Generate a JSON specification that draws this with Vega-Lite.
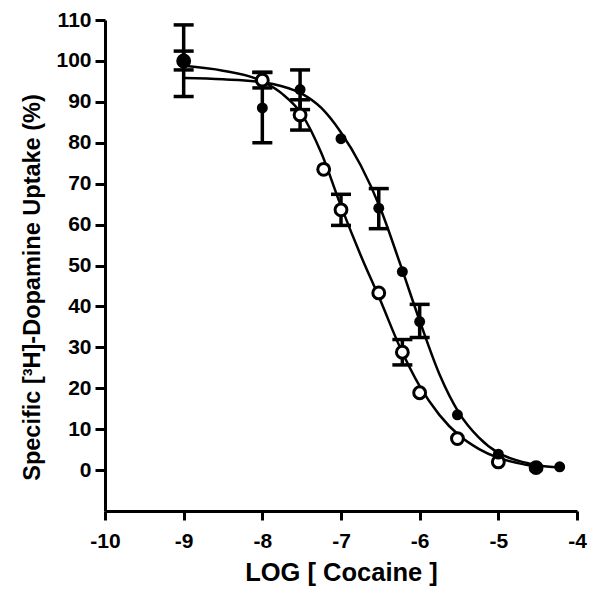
{
  "$schema": "https://vega.github.io/schema/vega-lite/v6.json",
  "width": 472,
  "height": 491,
  "autosize": {"type": "none"},
  "padding": {"left": 105, "top": 20, "right": 23, "bottom": 87},
  "background": "white",
  "config": {
    "view": {"stroke": null},
    "font": "Liberation Sans",
    "axis": {
      "grid": false,
      "domainColor": "black",
      "domainWidth": 3,
      "tickColor": "black",
      "tickWidth": 3,
      "tickSize": 9,
      "labelFlush": false,
      "labelOverlap": false,
      "labelFont": "Liberation Sans",
      "labelFontWeight": "bold",
      "labelFontSize": 21,
      "labelColor": "black",
      "titleFont": "Liberation Sans",
      "titleFontWeight": "bold",
      "titleFontSize": 24,
      "titleColor": "black"
    }
  },
  "datasets": {
    "curves": [
      {"series": "open", "x": -9, "y": 98.8},
      {"series": "open", "x": -8.5, "y": 97.6},
      {"series": "open", "x": -8, "y": 95.0},
      {"series": "open", "x": -7.75, "y": 92.0},
      {"series": "open", "x": -7.5, "y": 87.0},
      {"series": "open", "x": -7.25, "y": 77.5},
      {"series": "open", "x": -7, "y": 64.5},
      {"series": "open", "x": -6.75, "y": 52.5},
      {"series": "open", "x": -6.5, "y": 41.5},
      {"series": "open", "x": -6.25, "y": 30.0},
      {"series": "open", "x": -6, "y": 20.5},
      {"series": "open", "x": -5.75, "y": 13.5},
      {"series": "open", "x": -5.5, "y": 8.5},
      {"series": "open", "x": -5.25, "y": 5.2},
      {"series": "open", "x": -5, "y": 3.0},
      {"series": "open", "x": -4.75, "y": 1.7},
      {"series": "open", "x": -4.5, "y": 0.8},
      {"series": "filled", "x": -9, "y": 95.8},
      {"series": "filled", "x": -8.5, "y": 95.5},
      {"series": "filled", "x": -8, "y": 94.8},
      {"series": "filled", "x": -7.75, "y": 93.8},
      {"series": "filled", "x": -7.5, "y": 92.0},
      {"series": "filled", "x": -7.25, "y": 88.5},
      {"series": "filled", "x": -7, "y": 82.5},
      {"series": "filled", "x": -6.75, "y": 74.5},
      {"series": "filled", "x": -6.5, "y": 64.0},
      {"series": "filled", "x": -6.25, "y": 50.5},
      {"series": "filled", "x": -6, "y": 36.5},
      {"series": "filled", "x": -5.75, "y": 23.5},
      {"series": "filled", "x": -5.5, "y": 14.0},
      {"series": "filled", "x": -5.25, "y": 8.0},
      {"series": "filled", "x": -5, "y": 4.2},
      {"series": "filled", "x": -4.75, "y": 2.3},
      {"series": "filled", "x": -4.5, "y": 1.2},
      {"series": "filled", "x": -4.22, "y": 0.6}
    ],
    "points": [
      {"series": "open", "x": -9, "y": 100, "lo": 97.8, "hi": 102.4},
      {"series": "open", "x": -8, "y": 95.3, "lo": 93.4, "hi": 97.2},
      {"series": "open", "x": -7.52, "y": 86.8, "lo": 83.1, "hi": 90.5},
      {"series": "open", "x": -7.22, "y": 73.5},
      {"series": "open", "x": -7, "y": 63.6, "lo": 59.8, "hi": 67.4},
      {"series": "open", "x": -6.52, "y": 43.3},
      {"series": "open", "x": -6.22, "y": 28.8, "lo": 25.7, "hi": 31.9},
      {"series": "open", "x": -6, "y": 18.9},
      {"series": "open", "x": -5.52, "y": 7.7},
      {"series": "open", "x": -5, "y": 2.0},
      {"series": "open", "x": -4.52, "y": 0.6},
      {"series": "filled", "x": -9, "y": 100, "lo": 91.3, "hi": 108.8},
      {"series": "filled", "x": -8, "y": 88.5, "lo": 80.0, "hi": 97.2},
      {"series": "filled", "x": -7.52, "y": 93.0, "lo": 88.1, "hi": 97.8},
      {"series": "filled", "x": -7, "y": 81.0},
      {"series": "filled", "x": -6.52, "y": 64.0, "lo": 59.0, "hi": 68.8},
      {"series": "filled", "x": -6.22, "y": 48.5},
      {"series": "filled", "x": -6, "y": 36.3, "lo": 32.4, "hi": 40.5},
      {"series": "filled", "x": -5.52, "y": 13.5},
      {"series": "filled", "x": -5, "y": 3.9},
      {"series": "filled", "x": -4.52, "y": 0.8},
      {"series": "filled", "x": -4.22, "y": 0.8}
    ]
  },
  "layer": [
    {
      "data": {"name": "curves"},
      "mark": {"type": "line", "color": "black", "strokeWidth": 2.5, "interpolate": "monotone"},
      "encoding": {
        "x": {
          "field": "x", "type": "quantitative",
          "scale": {"domain": [-10, -4], "nice": false, "zero": false},
          "axis": {
            "values": [-10, -9, -8, -7, -6, -5, -4],
            "labelExpr": "'' + datum.value",
            "labelPadding": 10,
            "title": "LOG [ Cocaine ]",
            "titleFontSize": 25.5,
            "titleBaseline": "alphabetic",
            "titleY": 69
          }
        },
        "y": {
          "field": "y", "type": "quantitative",
          "scale": {"domain": [-10, 110], "nice": false, "zero": false},
          "axis": {
            "values": [0, 10, 20, 30, 40, 50, 60, 70, 80, 90, 100, 110],
            "labelExpr": "'' + datum.value",
            "labelPadding": 4,
            "tickSize": 10,
            "title": "Specific [³H]-Dopamine Uptake (%)",
            "titleFontSize": 23.5,
            "titleBaseline": "alphabetic",
            "titleAlign": "center",
            "titleAngle": 270,
            "titleX": -66,
            "titleY": 267
          }
        },
        "detail": {"field": "series"}
      }
    },
    {
      "data": {"name": "points"},
      "transform": [{"filter": "isValid(datum.lo)"}],
      "mark": {"type": "rule", "color": "black", "strokeWidth": 3.5},
      "encoding": {
        "x": {"field": "x", "type": "quantitative"},
        "y": {"field": "lo", "type": "quantitative"},
        "y2": {"field": "hi"}
      }
    },
    {
      "data": {"name": "points"},
      "transform": [
        {"filter": "isValid(datum.lo)"},
        {"fold": ["lo", "hi"], "as": ["end", "val"]}
      ],
      "mark": {"type": "tick", "orient": "horizontal", "color": "black", "opacity": 1, "thickness": 3.5, "size": 20},
      "encoding": {
        "x": {"field": "x", "type": "quantitative"},
        "y": {"field": "val", "type": "quantitative"}
      }
    },
    {
      "data": {"name": "points"},
      "transform": [{"filter": "datum.series === 'open'"}],
      "mark": {"type": "circle", "fill": "white", "stroke": "black", "strokeWidth": 3, "size": 140, "opacity": 1},
      "encoding": {
        "x": {"field": "x", "type": "quantitative"},
        "y": {"field": "y", "type": "quantitative"}
      }
    },
    {
      "data": {"name": "points"},
      "transform": [{"filter": "datum.series === 'filled'"}],
      "mark": {"type": "circle", "fill": "black", "size": 120, "opacity": 1},
      "encoding": {
        "x": {"field": "x", "type": "quantitative"},
        "y": {"field": "y", "type": "quantitative"}
      }
    }
  ]
}
